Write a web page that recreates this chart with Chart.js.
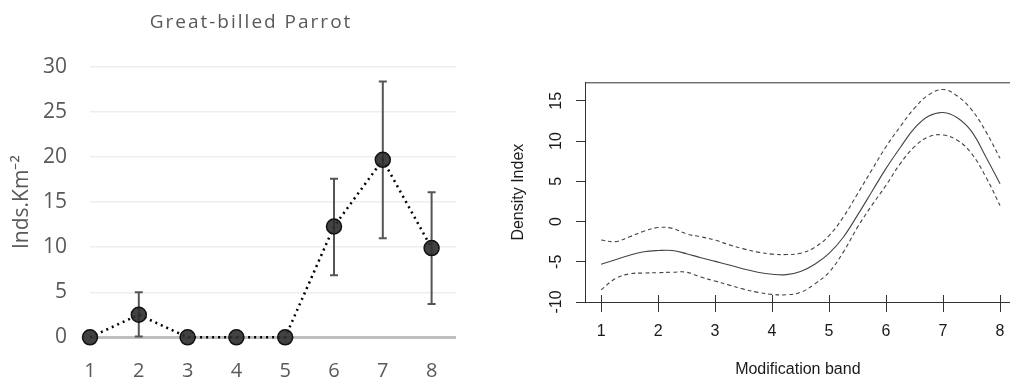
<!DOCTYPE html>
<html><head><meta charset="utf-8">
<script src="https://cdn.jsdelivr.net/npm/chart.js@4.4.0/dist/chart.umd.min.js"></script>
<style>
html,body{margin:0;padding:0;background:#fff;width:1010px;height:381px;overflow:hidden}
#c1{position:absolute;left:0;top:0}
#c2{position:absolute;left:490px;top:0}
</style></head><body>
<canvas id="c1" width="490" height="381"></canvas>
<canvas id="c2" width="520" height="381"></canvas>
<script>
// ---- Left panel: Great-billed Parrot density by modification band ----
const leftTitle = 'Great-billed Parrot';
const bands = [1, 2, 3, 4, 5, 6, 7, 8];
const density = [0, 2.5, 0, 0, 0, 12.3, 19.7, 9.9];
const errLow = [0, 0.1, 0, 0, 0, 6.9, 11.0, 3.7];
const errHigh = [0, 5.0, 0, 0, 0, 17.6, 28.4, 16.1];
const leftYTicks = [0, 5, 10, 15, 20, 25, 30];

// ---- Right panel: fitted Density Index (mean and confidence bounds) ----
const bandGrid = [1, 1.25, 1.5, 1.75, 2, 2.25, 2.5, 2.75, 3, 3.25, 3.5, 3.75, 4, 4.25, 4.5, 4.75, 5, 5.25, 5.5, 5.75, 6, 6.25, 6.5, 6.75, 7, 7.25, 7.5, 7.75, 8];
const fitMean  = [-5.3, -4.75, -4.2, -3.75, -3.6, -3.6, -4.0, -4.5, -4.95, -5.4, -5.9, -6.3, -6.55, -6.6, -6.2, -5.3, -3.95, -1.95, 0.8, 3.7, 6.6, 9.2, 11.6, 13.1, 13.55, 12.9, 11.2, 8.05, 4.7];
const fitUpper = [-2.3, -2.5, -1.9, -1.2, -0.75, -0.85, -1.55, -1.9, -2.3, -2.9, -3.4, -3.8, -4.05, -4.1, -3.95, -3.2, -1.75, 0.55, 3.45, 6.4, 9.3, 11.8, 14.1, 15.75, 16.4, 15.6, 13.9, 11.2, 7.85];
const fitLower = [-8.5, -7.1, -6.5, -6.4, -6.35, -6.3, -6.3, -6.9, -7.4, -7.9, -8.4, -8.8, -9.05, -9.1, -8.8, -7.75, -6.3, -3.8, -0.7, 2.0, 4.5, 7.2, 9.3, 10.55, 10.75, 10.1, 8.45, 5.55, 2.0];
const rightYTicks = [-10, -5, 0, 5, 10, 15];
const rightXTitle = 'Modification band';
const rightYTitle = 'Density Index';

const errorBars = {
  id: 'errorBars',
  beforeDatasetsDraw(chart) {
    const {ctx, scales: {x, y}} = chart;
    ctx.save();
    ctx.strokeStyle = '#555';
    ctx.lineWidth = 2;
    bands.forEach((b, i) => {
      if (errHigh[i] === errLow[i]) return;
      const px = x.getPixelForValue(b);
      const yt = y.getPixelForValue(errHigh[i]);
      const yb = y.getPixelForValue(errLow[i]);
      ctx.beginPath();
      ctx.moveTo(px, yt); ctx.lineTo(px, yb);
      ctx.moveTo(px - 4, yt); ctx.lineTo(px + 4, yt);
      ctx.moveTo(px - 4, yb); ctx.lineTo(px + 4, yb);
      ctx.stroke();
    });
    ctx.restore();
  }
};

const leftTitlePlugin = {
  id: 'leftTitle',
  afterDraw(chart) {
    const ctx = chart.ctx;
    ctx.save();
    ctx.font = '19px "Open Sans"';
    ctx.letterSpacing = '2px';
    ctx.fillStyle = '#595959';
    ctx.textAlign = 'center';
    ctx.textBaseline = 'alphabetic';
    ctx.fillText(leftTitle, 251, 28);
    ctx.restore();
  }
};

new Chart(document.getElementById('c1'), {
  type: 'line',
  data: {
    datasets: [{
      data: bands.map((b, i) => ({x: b, y: density[i]})),
      borderColor: '#000',
      borderWidth: 2.5,
      borderDash: [2, 4],
      pointRadius: 7.5,
      pointBackgroundColor: 'rgba(45,45,45,0.9)',
      pointBorderColor: '#111',
      pointBorderWidth: 1.5,
      tension: 0,
      clip: false
    }]
  },
  options: {
    responsive: false, animation: false, devicePixelRatio: 1,
    layout: {padding: {top: 67, right: 34, left: 0, bottom: 0}},
    plugins: {legend: {display: false}, tooltip: {enabled: false}},
    scales: {
      x: {
        type: 'linear', min: 1, max: 8.5,
        afterBuildTicks: s => { s.ticks = bands.map(v => ({value: v})); },
        afterFit: s => { s.height = 43.7; s.paddingLeft = 0; s.paddingRight = 0; },
        grid: {display: false}, border: {display: false},
        ticks: {color: '#595959', font: {family: 'Open Sans', size: 20}, padding: 14}
      },
      y: {
        min: 0, max: 30,
        afterBuildTicks: s => { s.ticks = leftYTicks.map(v => ({value: v})); },
        afterFit: s => { s.width = 90; s.paddingTop = 0; s.paddingBottom = 0; },
        grid: {
          color: c => c.tick.value === 0 ? '#bfbfbf' : '#eeeeee',
          lineWidth: c => c.tick.value === 0 ? 3 : 1.5,
          drawTicks: false
        },
        border: {display: false},
        ticks: {color: '#595959', font: {family: 'Open Sans', size: 21}, padding: 23},
        title: {display: true, text: 'Inds.Km⁻²', color: '#595959', font: {family: 'Open Sans', size: 21}, padding: {top: 9, bottom: 0}}
      }
    }
  },
  plugins: [errorBars, leftTitlePlugin]
});

const rAxisDeco = {
  id: 'rAxisDeco',
  afterDraw(chart) {
    const {ctx, chartArea, scales: {x, y}} = chart;
    ctx.save();
    ctx.strokeStyle = '#333';
    ctx.lineWidth = 1;
    ctx.beginPath();
    ctx.moveTo(chartArea.left, chartArea.top + 0.5);
    ctx.lineTo(chartArea.right, chartArea.top + 0.5);
    bands.forEach(b => {
      const px = Math.round(x.getPixelForValue(b)) + 0.5;
      ctx.moveTo(px, chartArea.bottom);
      ctx.lineTo(px, chartArea.bottom - 7);
    });
    ctx.stroke();
    ctx.fillStyle = '#1a1a1a';
    ctx.font = '16px "Liberation Sans"';
    ctx.textAlign = 'center';
    ctx.textBaseline = 'middle';
    rightYTicks.forEach(v => {
      const py = y.getPixelForValue(v);
      ctx.save();
      ctx.translate(67, py);
      ctx.rotate(-Math.PI / 2);
      ctx.fillText(String(v), 0, 0);
      ctx.restore();
    });
    ctx.restore();
  }
};

const lineStyle = (vals, dash) => ({
  data: bandGrid.map((b, i) => ({x: b, y: vals[i]})),
  borderColor: '#444', borderWidth: 1.1, borderDash: dash,
  pointRadius: 0, tension: 0.4, clip: false
});

new Chart(document.getElementById('c2'), {
  type: 'line',
  data: {datasets: [lineStyle(fitMean, []), lineStyle(fitUpper, [4, 3]), lineStyle(fitLower, [4, 3])]},
  options: {
    responsive: false, animation: false, devicePixelRatio: 1,
    layout: {padding: {top: 82.3, right: 0, left: 0, bottom: 0}},
    plugins: {legend: {display: false}, tooltip: {enabled: false}},
    scales: {
      x: {
        type: 'linear', min: 0.73, max: 8.175,
        afterBuildTicks: s => { s.ticks = bands.map(v => ({value: v})); },
        afterFit: s => { s.height = 79; s.paddingLeft = 0; s.paddingRight = 0; },
        grid: {drawOnChartArea: false, drawTicks: true, tickLength: 10, color: '#333', lineWidth: 1},
        border: {display: true, color: '#333', width: 1},
        ticks: {color: '#1a1a1a', font: {family: 'Liberation Sans', size: 16}, padding: 10},
        title: {display: true, text: rightXTitle, color: '#1a1a1a', font: {family: 'Liberation Sans', size: 16}, padding: {top: 0, bottom: 2}}
      },
      y: {
        min: -10, max: 17.3,
        afterBuildTicks: s => { s.ticks = rightYTicks.map(v => ({value: v})); },
        afterFit: s => { s.width = 95.7; s.paddingTop = 0; s.paddingBottom = 0; },
        grid: {drawOnChartArea: false, drawTicks: true, tickLength: 9.7, color: '#333', lineWidth: 1},
        border: {display: true, color: '#333', width: 1},
        ticks: {display: false},
        title: {display: true, text: rightYTitle, color: '#1a1a1a', font: {family: 'Liberation Sans', size: 16}, padding: {top: 19, bottom: 0}}
      }
    }
  },
  plugins: [rAxisDeco]
});
</script>
</body></html>
